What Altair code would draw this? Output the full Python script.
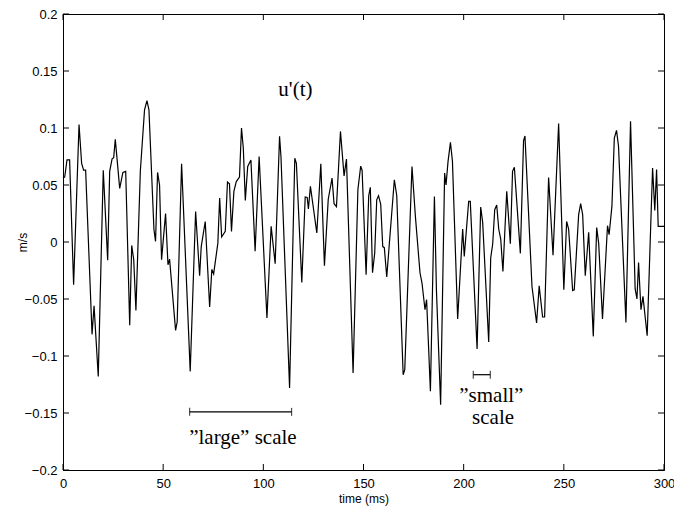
import altair as alt
import pandas as pd

# ---- data ----
t_ms = [0.0, 0.85, 2.0, 3.3, 5.3, 8.0, 9.3, 10.3, 11.3, 14.5, 15.5, 17.6, 20.1, 22.3, 23.3, 24.5,
        25.3, 26.1, 28.3, 29.9, 31.3, 33.3, 34.3, 35.3, 36.4, 38.6, 40.7, 41.9, 42.9, 45.4, 46.2,
        47.2, 48.2, 49.2, 51.2, 52.4, 53.2, 56.2, 57.0, 59.2, 63.5, 66.2, 68.2, 69.0, 71.0, 73.2,
        74.3, 75.2, 77.3, 78.2, 79.2, 81.0, 82.1, 83.1, 84.1, 85.3, 86.5, 88.1, 89.1, 90.0, 91.0,
        92.2, 93.8, 95.9, 97.9, 101.8, 103.9, 105.9, 108.1, 108.8, 113.1, 115.7, 116.5, 119.2,
        120.9, 121.9, 122.5, 123.5, 126.7, 128.7, 130.5, 132.4, 134.3, 135.3, 136.5, 138.5, 140.3,
        141.5, 144.8, 147.2, 148.6, 149.3, 151.3, 152.6, 153.4, 154.5, 155.6, 156.6, 157.5, 158.6,
        159.6, 160.4, 161.6, 165.4, 166.6, 169.8, 170.6, 174.2, 175.9, 178.2, 179.2, 180.7, 181.5,
        183.4, 185.4, 186.4, 188.5, 190.5, 191.2, 192.2, 193.4, 194.4, 197.0, 199.5, 200.3, 202.5,
        203.3, 206.7, 208.5, 209.5, 212.5, 213.5, 214.5, 215.5, 216.5, 217.5, 218.5, 219.6, 221.5,
        223.3, 224.4, 225.3, 228.3, 229.9, 230.6, 234.1, 236.4, 237.7, 239.4, 240.4, 242.4, 244.6,
        247.4, 250.0, 251.4, 252.4, 254.4, 255.2, 257.4, 258.4, 259.4, 260.7, 262.4, 264.7, 266.4,
        267.4, 269.3, 271.8, 272.6, 274.0, 275.2, 276.3, 277.3, 281.0, 283.3, 285.6, 286.5, 287.3,
        288.5, 289.5, 291.6, 294.3, 295.4, 296.3, 297.1, 300.0]
u_ms = [0.056, 0.057, 0.072, 0.072, -0.0375, 0.103, 0.069, 0.063, 0.063, -0.081, -0.056, -0.118,
        0.063, -0.016, 0.062, 0.073, 0.074, 0.090, 0.047, 0.061, 0.062, -0.073, -0.003, -0.0155,
        -0.060, 0.062, 0.116, 0.124, 0.116, 0.011, 0.0005, 0.061, 0.050, -0.0155, 0.025, -0.020,
        -0.015, -0.0775, -0.070, 0.0687, -0.1135, 0.0268, -0.0296, -0.004, 0.018, -0.057, -0.024,
        -0.028, -0.001, 0.0386, 0.0044, 0.0093, 0.0526, 0.051, 0.0093, 0.0444, 0.053, 0.057, 0.100,
        0.0824, 0.0365, 0.0663, 0.072, -0.008, 0.075, -0.0667, 0.0137, -0.019, 0.0927, 0.075,
        -0.128, 0.0735, 0.069, -0.0354, 0.0395, 0.039, 0.029, 0.0488, 0.0079, 0.0687, -0.0208,
        0.0375, 0.056, 0.0336, 0.031, 0.097, 0.058, 0.0727, -0.115, 0.0459, 0.0665, 0.063, -0.0287,
        0.0406, 0.048, -0.027, -0.0096, 0.037, 0.0406, 0.033, -0.004, -0.005, -0.0307, 0.0546,
        0.0406, -0.1164, -0.112, 0.0663, 0.0225, -0.027, -0.036, -0.0594, -0.0506, -0.131, 0.040,
        -0.0418, -0.1427, 0.0605, 0.050, 0.0707, 0.0874, 0.0707, -0.0676, 0.0114, -0.0126, 0.0356,
        0.0356, -0.0939, 0.0307, 0.017, -0.0877, -0.014, -0.0015, 0.0283, 0.0325, 0.0114, 0.0026,
        -0.0258, 0.0444, -0.0015, 0.062, 0.0656, -0.010, 0.089, 0.093, -0.039, -0.071, -0.0385,
        -0.0658, -0.0658, 0.0566, -0.0117, 0.104, -0.0418, 0.018, 0.0114, -0.0427, -0.042, 0.024,
        0.0336, 0.024, -0.0296, 0.0085, -0.0828, 0.0126, -0.0012, -0.0676, 0.0143, 0.0064, 0.0312,
        0.0912, 0.0979, 0.084, -0.0705, 0.1058, -0.0412, -0.050, -0.0179, -0.0594, -0.0477, -0.0822,
        0.0649, 0.0277, 0.0636, 0.0137, 0.0137]

x_ticks = [0, 50, 100, 150, 200, 250, 300]
y_ticks = [-0.2, -0.15, -0.1, -0.05, 0, 0.05, 0.1, 0.15, 0.2]

# scale bars (data units)
bar_names = ["large", "small"]
bar_start = [63.2, 204.8]
bar_end = [114.1, 213.3]
bar_level = [-0.149, -0.1164]

# annotation texts (data units)
note_text = ["u'(t)", "\u201dlarge\u201d scale", "\u201dsmall\u201d", "scale"]
note_t = [107.5, 63.0, 197.8, 204.2]
note_u = [0.1335, -0.1715, -0.1355, -0.1545]

W, H = 601, 456
xs = alt.Scale(domain=[0, 300], nice=False, zero=False)
ys = alt.Scale(domain=[-0.2, 0.2], nice=False, zero=False)

x_axis = alt.Axis(title="time (ms)", values=x_ticks, ticks=False, labelPadding=7, labelFlush=False,
                  labelOverlap=False, titleY=28, titleBaseline="middle")
y_axis = alt.Axis(title="m/s", values=y_ticks, format="~g", ticks=False, labelPadding=6,
                  labelOverlap=False, titleX=-41, titleY=H / 2, titleBaseline="middle", titleAngle=-90)


def X(field):
    return alt.X(field, type="quantitative", scale=xs, axis=x_axis, title="time (ms)")


def Y(field):
    return alt.Y(field, type="quantitative", scale=ys, axis=y_axis, title="m/s")


df = pd.DataFrame({"t": t_ms, "u": u_ms})
line = alt.Chart(df).mark_line(color="black", strokeWidth=1.2).encode(x=X("t"), y=Y("u"))

xt = pd.DataFrame({"t": x_ticks})
yt = pd.DataFrame({"u": y_ticks})
tick_len = 6
xt_bottom = alt.Chart(xt).mark_rule(color="black", strokeWidth=1).encode(
    x=X("t"), y=alt.value(H - tick_len), y2=alt.value(H))
xt_top = alt.Chart(xt).mark_rule(color="black", strokeWidth=1).encode(
    x=X("t"), y=alt.value(0), y2=alt.value(tick_len))
yt_left = alt.Chart(yt).mark_rule(color="black", strokeWidth=1).encode(
    y=Y("u"), x=alt.value(0), x2=alt.value(tick_len))
yt_right = alt.Chart(yt).mark_rule(color="black", strokeWidth=1).encode(
    y=Y("u"), x=alt.value(W - tick_len), x2=alt.value(W))

bars = pd.DataFrame({"name": bar_names, "t": bar_start, "t2": bar_end, "u": bar_level})
bar_h = alt.Chart(bars).mark_rule(color="black", strokeWidth=1.2).encode(
    x=X("t"), x2="t2:Q", y=Y("u"))
bar_c1 = alt.Chart(bars).mark_tick(color="black", thickness=1.2, size=8, orient="vertical").encode(
    x=X("t"), y=Y("u"))
bars2 = pd.DataFrame({"name": bar_names, "t": bar_end, "u": bar_level})
bar_c2 = alt.Chart(bars2).mark_tick(color="black", thickness=1.2, size=8, orient="vertical").encode(
    x=X("t"), y=Y("u"))

notes = pd.DataFrame({"txt": note_text, "t": note_t, "u": note_u})
note_marks = alt.Chart(notes).mark_text(
    font="Liberation Serif", fontSize=21, align="left", baseline="middle", color="black").encode(
    x=X("t"), y=Y("u"), text="txt:N")

chart = alt.layer(line, xt_bottom, xt_top, yt_left, yt_right, bar_h, bar_c1, bar_c2, note_marks).properties(
    width=W, height=H,
    autosize=alt.AutoSizeParams(type="none"),
    padding={"left": 63, "top": 14, "right": 10, "bottom": 37},
    background="white",
).configure_view(stroke="black", strokeWidth=1).configure_axis(
    labelFont="Liberation Sans", labelFontSize=13, labelColor="black",
    titleFont="Liberation Sans", titleFontSize=12, titleColor="black", titleFontWeight="normal",
    domainColor="black", domainWidth=1, grid=False,
)

chart.save("out.html", embed_options={"renderer": "svg", "actions": False})
